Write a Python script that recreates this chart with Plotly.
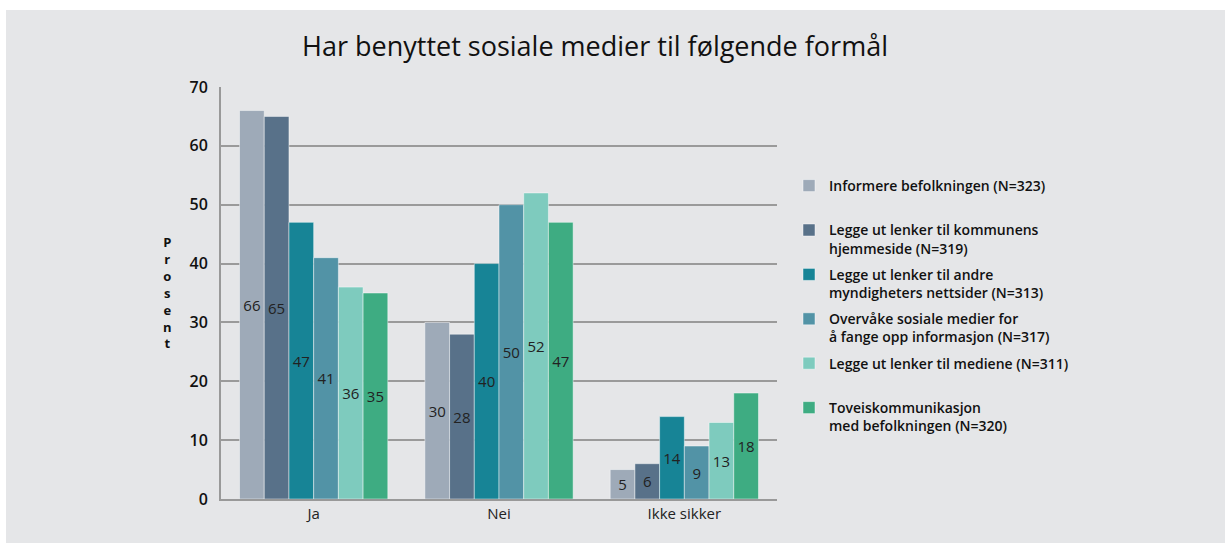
import plotly.graph_objects as go

categories = ["Ja", "Nei", "Ikke sikker"]
series_names = [
    "Informere befolkningen (N=323)<br> ",
    "Legge ut lenker til kommunens<br>hjemmeside (N=319)",
    "Legge ut lenker til andre<br>myndigheters nettsider (N=313)",
    "Overvåke sosiale medier for<br>å fange opp informasjon (N=317)",
    "Legge ut lenker til mediene (N=311)<br> ",
    "Toveiskommunikasjon<br>med befolkningen (N=320)",
]
informere = [66, 30, 5]
kommunens = [65, 28, 6]
andre = [47, 40, 14]
overvake = [41, 50, 9]
mediene = [36, 52, 13]
toveis = [35, 47, 18]
series_values = [informere, kommunens, andre, overvake, mediene, toveis]
colors = ["#9EAAB8", "#587189", "#178496", "#5293A6", "#7ECBBE", "#3EAC82"]
y_ticks = [0, 10, 20, 30, 40, 50, 60, 70]

FONT = "Open Sans"

fig = go.Figure()
for name, vals, col in zip(series_names, series_values, colors):
    fig.add_trace(go.Bar(
        x=categories, y=vals, name=name,
        marker=dict(color=col, line=dict(color="rgba(255,255,255,0.45)", width=1)),
        text=[str(v) for v in vals], textposition="inside",
        insidetextanchor="middle", textangle=0, constraintext="none",
        textfont=dict(family=FONT, size=15, color="#222222"),
        legendgroup=name,
    ))

L, R, T, B = 221, 448, 87, 44
pw = 1225 - L - R
ph = 543 - T - B

def px_x(px):
    return (px - L) / pw

def px_y(py):
    return (543 - B - py) / ph

fig.update_layout(
    width=1225, height=543,
    margin=dict(l=L, r=R, t=T, b=B),
    paper_bgcolor="white",
    plot_bgcolor="rgba(0,0,0,0)",
    barmode="group", bargap=0.2, bargroupgap=0,
    font=dict(family=FONT, color="#111111"),
    title=dict(text="Har benyttet sosiale medier til følgende formål",
               x=595 / 1225, xref="container", xanchor="center",
               y=1 - 47 / 543, yref="container", yanchor="middle",
               font=dict(family=FONT, size=27, color="#111111", weight=500)),
    legend=dict(x=px_x(789), xanchor="left", y=px_y(170), yanchor="top",
                font=dict(family=FONT, size=14, color="#111111", weight=600),
                valign="top", tracegroupgap=5, bgcolor="rgba(0,0,0,0)",
                traceorder="grouped"),
    shapes=[dict(type="rect", xref="paper", yref="paper", layer="below",
                 x0=px_x(6), x1=px_x(1230), y0=px_y(550), y1=px_y(10),
                 fillcolor="#E5E6E8", line=dict(width=0))],
    annotations=[dict(text="P<br>r<br>o<br>s<br>e<br>n<br>t",
                      xref="paper", yref="paper", x=px_x(167), y=px_y(292),
                      xanchor="center", yanchor="middle", showarrow=False,
                      font=dict(family=FONT, size=13, color="#111111", weight="bold"))],
)
fig.update_xaxes(showline=True, linecolor="#999999", linewidth=2,
                 ticks="", tickfont=dict(family=FONT, size=15, color="#222222"))
fig.update_yaxes(range=[0, 70], tickvals=y_ticks, showgrid=True,
                 gridcolor="#9A9A9A", gridwidth=2, showline=True,
                 linecolor="#999999", linewidth=2, zeroline=False,
                 ticks="", ticklabelstandoff=8,
                 tickfont=dict(family=FONT, size=16, color="#111111", weight=600))

fig.write_html("out.html", config={"displayModeBar": False},
               post_script="document.body.style.margin='0';document.body.style.overflow='hidden';")
